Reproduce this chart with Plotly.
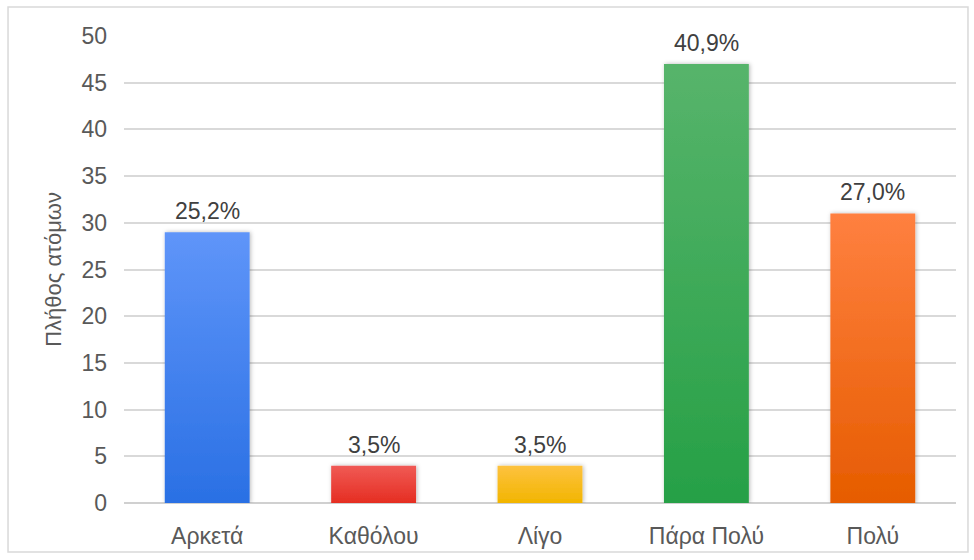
import json
import plotly.graph_objects as go

# Survey answers and number of respondents per answer
categories = ["Αρκετά", "Καθόλου", "Λίγο", "Πάρα Πολύ", "Πολύ"]
counts = [29, 4, 4, 47, 31]

# Bar fill: top / bottom colour of each vertical gradient
grad_top = ["#5F95F9", "#F05A55", "#FDC23F", "#57B46B", "#FF8040"]
grad_bottom = ["#2A70E4", "#E52E22", "#F2B500", "#26A046", "#E65C00"]
solid = ["#3F82EE", "#EA443B", "#F8BC20", "#3EAA58", "#F26E20"]

total = sum(counts)
labels = [f"{c / total * 100:.1f}%".replace(".", ",") for c in counts]

FONT = "Liberation Sans, Arial, sans-serif"

fig = go.Figure(
    go.Bar(
        x=categories,
        y=counts,
        width=0.51,
        marker=dict(color=solid, line=dict(width=0)),
        hoverinfo="skip",
    )
)

for cat, val, lab in zip(categories, counts, labels):
    fig.add_annotation(
        x=cat, y=val, text=lab, showarrow=False,
        yanchor="middle", yshift=21,
        font=dict(family=FONT, size=23, color="#404040"),
    )

# Axis title
fig.add_annotation(
    xref="paper", yref="paper", x=-0.085, y=0.5,
    text="Πλήθος ατόμων", textangle=-90, showarrow=False,
    xanchor="center", yanchor="middle",
    font=dict(family=FONT, size=22, color="#595959"),
)

# Outer chart frame
fig.add_shape(
    type="rect", xref="paper", yref="paper",
    x0=-0.1394, x1=1.0144, y0=-0.1049, y1=1.0621,
    line=dict(color="#D9D9D9", width=1.5), fillcolor="rgba(0,0,0,0)", layer="below",
)

fig.update_layout(
    width=974, height=560,
    margin=dict(l=124, r=18, t=36, b=57),
    paper_bgcolor="white", plot_bgcolor="white",
    showlegend=False,
    bargap=0.49,
    xaxis=dict(
        showgrid=False, showline=False, zeroline=False,
        ticks="", ticklabelstandoff=17,
        tickfont=dict(family=FONT, size=23, color="#595959"),
    ),
    yaxis=dict(
        range=[0, 50], dtick=5, tick0=0,
        showgrid=True, gridcolor="#D9D9D9", gridwidth=1.5,
        zeroline=True, zerolinecolor="#D0D0D0", zerolinewidth=2,
        showline=False, ticks="", ticklabelstandoff=16,
        tickfont=dict(family=FONT, size=23, color="#595959"),
    ),
)

post = """
var gd = document.getElementById('{plot_id}');
var NS = 'http://www.w3.org/2000/svg';
var svg = gd.querySelector('svg.main-svg');
var defs = svg.querySelector('defs');
if (!defs) { defs = document.createElementNS(NS, 'defs'); svg.insertBefore(defs, svg.firstChild); }
var tops = TOPS, bottoms = BOTTOMS;
var f = document.createElementNS(NS, 'filter');
f.setAttribute('id', 'barshadow');
f.setAttribute('x', '-20%'); f.setAttribute('y', '-20%');
f.setAttribute('width', '140%'); f.setAttribute('height', '140%');
var ds = document.createElementNS(NS, 'feDropShadow');
ds.setAttribute('dx', '1'); ds.setAttribute('dy', '0');
ds.setAttribute('stdDeviation', '2.2');
ds.setAttribute('flood-color', '#000'); ds.setAttribute('flood-opacity', '0.28');
f.appendChild(ds); defs.appendChild(f);
var paths = gd.querySelectorAll('.barlayer .point path');
paths.forEach(function (p, i) {
  var g = document.createElementNS(NS, 'linearGradient');
  g.setAttribute('id', 'bargrad' + i);
  g.setAttribute('x1', '0'); g.setAttribute('y1', '0');
  g.setAttribute('x2', '0'); g.setAttribute('y2', '1');
  [[0, tops[i]], [1, bottoms[i]]].forEach(function (s) {
    var st = document.createElementNS(NS, 'stop');
    st.setAttribute('offset', s[0]);
    st.setAttribute('stop-color', s[1]);
    g.appendChild(st);
  });
  defs.appendChild(g);
  p.style.fill = 'url(#bargrad' + i + ')';
  p.style.filter = 'url(#barshadow)';
});
""".replace("TOPS", json.dumps(grad_top)).replace("BOTTOMS", json.dumps(grad_bottom))

fig.write_html("out.html", post_script=post, config={"displayModeBar": False})
